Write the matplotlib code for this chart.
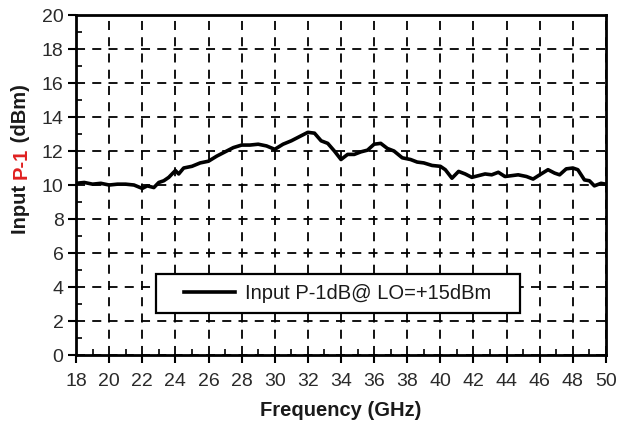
import matplotlib
matplotlib.use("Agg")
import matplotlib.pyplot as plt
from matplotlib.patches import Rectangle
from matplotlib.ticker import MultipleLocator

plt.rcParams['font.family'] = ['Liberation Sans', 'DejaVu Sans']

freq = [18, 18.5, 19, 19.5, 20, 20.5, 21, 21.5, 22, 22.3, 22.7, 23, 23.3, 23.6,
        24, 24.2, 24.5, 25, 25.5, 26, 26.5, 27, 27.5, 28, 28.5, 29, 29.5, 30,
        30.5, 31, 31.5, 32, 32.4, 32.8, 33.2, 33.6, 34, 34.4, 34.8, 35.2, 35.6,
        36, 36.4, 36.8, 37.2, 37.7, 38.2, 38.6, 39, 39.5, 40, 40.3, 40.7, 41.1,
        41.5, 41.9, 42.3, 42.7, 43.1, 43.5, 43.9, 44.3, 44.7, 45.2, 45.6, 46,
        46.5, 46.9, 47.2, 47.6, 48, 48.3, 48.7, 49, 49.3, 49.7, 50]
p1db = [10.1, 10.15, 10.05, 10.1, 10.0, 10.05, 10.05, 10.0, 9.8, 9.95, 9.85,
        10.15, 10.25, 10.45, 10.85, 10.65, 11.0, 11.1, 11.3, 11.4, 11.7, 11.95,
        12.2, 12.35, 12.35, 12.4, 12.3, 12.1, 12.4, 12.6, 12.85, 13.1, 13.05,
        12.6, 12.45, 12.0, 11.5, 11.8, 11.8, 11.95, 12.05, 12.4, 12.45, 12.15,
        12.0, 11.6, 11.5, 11.35, 11.3, 11.15, 11.1, 10.9, 10.4, 10.8, 10.65,
        10.45, 10.55, 10.65, 10.6, 10.75, 10.5, 10.55, 10.6, 10.5, 10.35, 10.6,
        10.9, 10.7, 10.6, 10.95, 11.0, 10.9, 10.3, 10.25, 9.95, 10.1, 10.05]

x_ticks = list(range(18, 51, 2))
y_ticks = list(range(0, 21, 2))
legend_label = "Input P-1dB@ LO=+15dBm"

fig = plt.figure(figsize=(6.21, 4.24), dpi=100)
ax = fig.add_axes([0.1224, 0.1627, 0.8534, 0.8019])

ax.plot(freq, p1db, color='black', lw=2.6, label=legend_label, zorder=4)

ax.set_xlim(18, 50)
ax.set_ylim(0, 20)
ax.set_xticks(x_ticks)
ax.set_yticks(y_ticks)
ax.xaxis.set_minor_locator(MultipleLocator(1))
ax.yaxis.set_minor_locator(MultipleLocator(1))
ax.tick_params(which='major', direction='out', length=6, width=1.5, labelsize=14,
               color='black', labelcolor='#2a2a2a')
ax.tick_params(which='minor', direction='in', length=4, width=1.2)
ax.tick_params(axis='x', pad=7)
ax.tick_params(axis='y', pad=3)

ax.grid(True, which='major', color='black', lw=1.3, linestyle=(0, (5, 4)))
ax.set_axisbelow(True)
for sp in ax.spines.values():
    sp.set_linewidth(2)

ax.set_xlabel("Frequency (GHz)", fontsize=14.5, fontweight='bold', labelpad=8,
              color='#1a1a1a')

# legend box drawn separately so it can be wider than the entry
box = Rectangle((0.151, 0.124), 0.687, 0.115, transform=ax.transAxes,
                facecolor='white', edgecolor='black', lw=1.6, zorder=5)
ax.add_patch(box)
leg = ax.legend(loc='center', bbox_to_anchor=(0.494, 0.182), frameon=False,
                fontsize=14.5, handlelength=2.5, handletextpad=0.5)
leg.set_zorder(6)
for t in leg.get_texts():
    t.set_color('#1a1a1a')

# y label in pieces, middle part red
fig.canvas.draw()
r = fig.canvas.get_renderer()
pieces = [("Input ", '#1a1a1a'), ("P-1", '#e02020'), (" (dBm)", '#1a1a1a')]
texts = []
for s, c in pieces:
    t = fig.text(0, 0, s, rotation=90, color=c, fontsize=14.5, fontweight='bold',
                 ha='center', va='bottom')
    texts.append(t)
hs = [t.get_window_extent(r).height for t in texts]
y0 = 265 - sum(hs) / 2
for t, h in zip(texts, hs):
    t.set_position((21 / 621, y0 / 424))
    y0 += h

fig.savefig("out.png", dpi=100)
